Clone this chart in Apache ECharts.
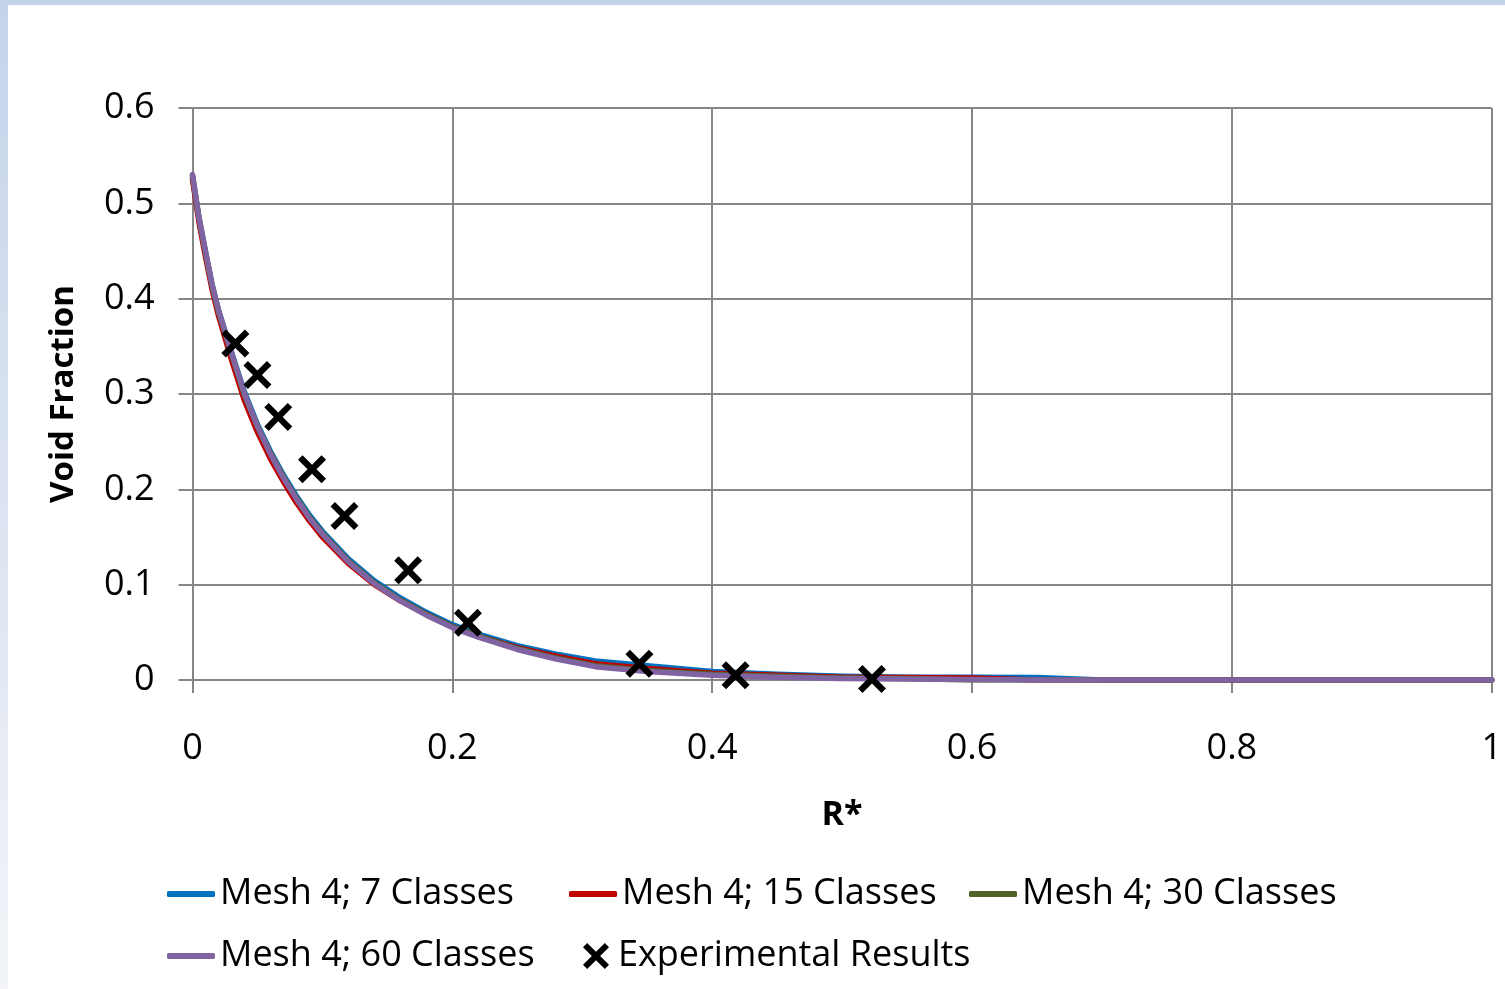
<!DOCTYPE html>
<html>
<head>
<meta charset="utf-8">
<style>
html,body{margin:0;padding:0;background:#fff;}
#c{width:1505px;height:989px;}
</style>
<script src="https://cdn.jsdelivr.net/npm/echarts@6/dist/echarts.min.js"></script>
</head>
<body>
<div id="c"></div>
<script>
// ---- data ----
const rStar = [0, 0.005, 0.01, 0.015, 0.02, 0.03, 0.04, 0.05, 0.06, 0.07, 0.08, 0.09, 0.1, 0.12, 0.14, 0.16, 0.18, 0.2, 0.22, 0.25, 0.28, 0.31, 0.35, 0.4, 0.45, 0.5, 0.55, 0.6, 0.65, 0.7, 0.8, 0.9, 1.0];
const mesh4_7  = [0.528,0.484,0.449,0.415,0.388,0.344,0.302,0.268,0.240,0.215,0.193,0.173,0.156,0.127,0.104,0.086,0.071,0.058,0.048,0.036,0.027,0.020,0.015,0.009,0.006,0.004,0.003,0.003,0.0025,0,0,0,0];
const mesh4_15 = [0.525,0.480,0.444,0.410,0.382,0.336,0.293,0.260,0.232,0.208,0.186,0.167,0.150,0.122,0.100,0.083,0.069,0.056,0.046,0.034,0.025,0.017,0.012,0.007,0.005,0.003,0.0025,0.002,0,0,0,0,0];
const mesh4_30 = [0.529,0.484,0.448,0.414,0.386,0.342,0.299,0.266,0.238,0.213,0.191,0.171,0.154,0.125,0.102,0.084,0.069,0.056,0.046,0.033,0.023,0.015,0.010,0.006,0.004,0.002,0.0015,0,0,0,0,0,0];
const mesh4_60 = [0.530,0.485,0.450,0.415,0.388,0.343,0.300,0.266,0.237,0.212,0.190,0.170,0.153,0.124,0.101,0.083,0.068,0.055,0.045,0.032,0.022,0.014,0.009,0.005,0.003,0.0015,0.001,0.0005,0,0,0,0,0];
const expX = [0.033,0.050,0.066,0.092,0.117,0.166,0.212,0.344,0.418,0.523];
const expY = [0.353,0.320,0.276,0.221,0.172,0.115,0.060,0.017,0.005,0.001];
const seriesNames = ['Mesh 4; 7 Classes','Mesh 4; 15 Classes','Mesh 4; 30 Classes','Mesh 4; 60 Classes','Experimental Results'];
const xAxisTitle = 'R*';
const yAxisTitle = 'Void Fraction';

// ---- build ----
const pair = (xs, ys) => xs.map((x, i) => [x, ys[i]]);
const colors = ['#0070c0', '#c00000', '#4f6228', '#8064a2'];
const lineData = [mesh4_7, mesh4_15, mesh4_30, mesh4_60];
const xPath = 'path://M0,16 L16,0 L50,34 L84,0 L100,16 L66,50 L100,84 L84,100 L50,66 L16,100 L0,84 L34,50 Z';
const FONT = 'Open Sans';
const gridColor = '#868686';

const series = lineData.map((d, i) => ({
  name: seriesNames[i],
  type: 'line',
  data: pair(rStar, d),
  showSymbol: false,
  symbol: 'none',
  smooth: false,
  lineStyle: { color: colors[i], width: 5.5, cap: 'round', join: 'round' },
  itemStyle: { color: colors[i] },
  z: 3 + i,
  animation: false
}));
series.push({
  name: seriesNames[4],
  type: 'scatter',
  data: pair(expX, expY),
  symbol: xPath,
  symbolSize: 28,
  itemStyle: { color: '#000', opacity: 1 },
  z: 10,
  animation: false
});

function leg(name, left, top, icon, iw, ih, extra) {
  return Object.assign({
    data: [name], left: left, top: top, padding: 0, orient: 'horizontal',
    icon: icon, itemWidth: iw, itemHeight: ih, selectedMode: false,
    itemStyle: { opacity: 1 },
    textStyle: { fontFamily: FONT, fontSize: 36, color: '#000', lineHeight: 40 }
  }, extra || {});
}

const chart = echarts.init(document.getElementById('c'), null, { renderer: 'canvas' });
chart.setOption({
  animation: false,
  backgroundColor: '#ffffff',
  graphic: [
    { type: 'rect', left: 0, top: 0, shape: { width: 1505, height: 5 }, style: { fill: '#c5d3ea' }, z: -1 },
    { type: 'rect', left: 0, top: 0, shape: { width: 8, height: 989 },
      style: { fill: new echarts.graphic.LinearGradient(0, 0, 0, 1, [{ offset: 0, color: '#c5d3ea' }, { offset: 1, color: '#f2f4f8' }]) }, z: -1 }
  ],
  grid: { left: 192.5, right: 11, top: 108, bottom: 309, containLabel: false },
  xAxis: {
    type: 'value', min: 0, max: 1, interval: 0.2,
    name: xAxisTitle, nameLocation: 'middle', nameGap: 118,
    nameTextStyle: { fontFamily: FONT, fontSize: 34, fontWeight: 'bold', color: '#000' },
    axisLine: { show: true, onZero: false, lineStyle: { color: gridColor, width: 2 } },
    axisTick: { show: true, inside: false, length: 13, lineStyle: { color: gridColor, width: 2 } },
    axisLabel: { margin: 51, fontFamily: FONT, fontSize: 36, color: '#000' },
    splitLine: { show: true, lineStyle: { color: gridColor, width: 2 } }
  },
  yAxis: {
    type: 'value', min: 0, max: 0.6, interval: 0.1,
    name: yAxisTitle, nameLocation: 'middle', nameGap: 112,
    nameTextStyle: { fontFamily: FONT, fontSize: 33, fontWeight: 'bold', color: '#000' },
    axisLine: { show: true, lineStyle: { color: gridColor, width: 2 } },
    axisTick: { show: true, inside: false, length: 14, lineStyle: { color: gridColor, width: 2 } },
    axisLabel: { margin: 38, fontFamily: FONT, fontSize: 36, color: '#000', padding: [6, 0, 0, 0] },
    splitLine: { show: true, lineStyle: { color: gridColor, width: 2 } }
  },
  legend: [
    leg(seriesNames[0], 167, 874, 'roundRect', 48, 6),
    leg(seriesNames[1], 569, 874, 'roundRect', 48, 6),
    leg(seriesNames[2], 969, 874, 'roundRect', 48, 6),
    leg(seriesNames[3], 167, 936, 'roundRect', 48, 6),
    leg(seriesNames[4], 583, 936, xPath, 28, 26, { textStyle: { fontFamily: FONT, fontSize: 36, color: '#000', lineHeight: 40, padding: [0, 0, 0, 3] } })
  ],
  series: series
});
</script>
</body>
</html>
